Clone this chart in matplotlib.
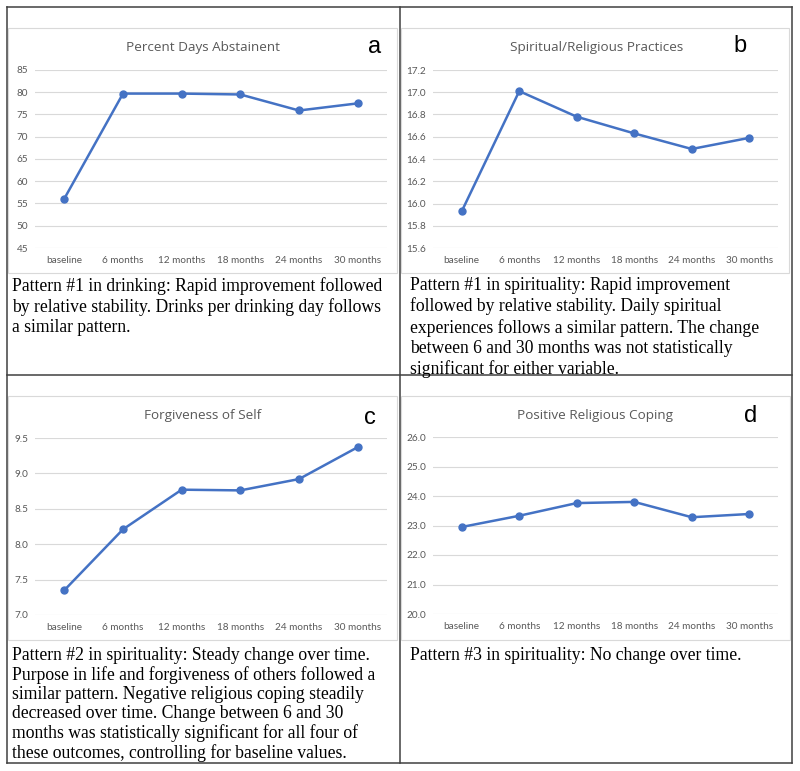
import matplotlib
matplotlib.use("Agg")
import matplotlib.pyplot as plt
from matplotlib.lines import Line2D
from matplotlib.patches import Rectangle
from matplotlib.ticker import FormatStrFormatter

# data
timepoints = ["baseline", "6 months", "12 months", "18 months", "24 months", "30 months"]

abstinent = [56.1, 79.7, 79.7, 79.5, 75.9, 77.5]
practices = [15.93, 17.01, 16.78, 16.63, 16.49, 16.59]
forgiveness_self = [7.35, 8.21, 8.77, 8.76, 8.92, 9.37]
positive_coping = [22.95, 23.33, 23.76, 23.80, 23.28, 23.39]

titles = ["Percent Days Abstainent", "Spiritual/Religious Practices",
          "Forgiveness of Self", "Positive Religious Coping"]
letters = ["a", "b", "c", "d"]

captions = [
    "Pattern #1 in drinking: Rapid improvement followed\n"
    "by relative stability. Drinks per drinking day follows\n"
    "a similar pattern.",
    "Pattern #1 in spirituality: Rapid improvement\n"
    "followed by relative stability. Daily spiritual\n"
    "experiences follows a similar pattern. The change\n"
    "between 6 and 30 months was not statistically\n"
    "significant for either variable.",
    "Pattern #2 in spirituality: Steady change over time.\n"
    "Purpose in life and forgiveness of others followed a\n"
    "similar pattern. Negative religious coping steadily\n"
    "decreased over time. Change between 6 and 30\n"
    "months was statistically significant for all four of\n"
    "these outcomes, controlling for baseline values.",
    "Pattern #3 in spirituality: No change over time.",
]

W, H = 800, 771
fig = plt.figure(figsize=(W / 100, H / 100), dpi=100)


def fx(x):
    return x / W


def fy(y):
    return 1 - y / H


def add_chart(box, values, yticks, fmt, title, title_pos, letter, letter_pos):
    left, top, right, bottom = box
    ax = fig.add_axes([fx(left), fy(bottom), fx(right - left), (bottom - top) / H])
    ax.plot(range(len(timepoints)), values, color="#4472C4", lw=1.8,
            marker="o", ms=5, zorder=3)
    ax.set_xlim(-0.5, len(timepoints) - 0.5)
    ax.set_ylim(yticks[0], yticks[-1])
    ax.set_yticks(yticks)
    ax.yaxis.set_major_formatter(FormatStrFormatter(fmt))
    ax.set_xticks(range(len(timepoints)))
    ax.set_xticklabels(timepoints)
    for s in ax.spines.values():
        s.set_visible(False)
    ax.grid(axis="y", color="#d9d9d9", lw=0.8)
    ax.set_axisbelow(True)
    ax.tick_params(length=0, labelsize=7.2, labelcolor="#595959", pad=6,
                   labelfontfamily="Lato")
    ax.tick_params(axis="y", pad=5)
    fig.text(fx(title_pos[0]), fy(title_pos[1]), title, ha="center", va="center",
             fontsize=9.7, color="#595959", family="Open Sans")
    fig.text(fx(letter_pos[0]), fy(letter_pos[1]), letter, ha="center", va="center",
             fontsize=17, color="black", family="Liberation Sans")
    return ax


add_chart((35, 70, 387, 248), abstinent, [45, 50, 55, 60, 65, 70, 75, 80, 85], "%d",
          titles[0], (203, 47), letters[0], (375, 47))
add_chart((433, 70, 778, 248), practices,
          [15.6, 15.8, 16.0, 16.2, 16.4, 16.6, 16.8, 17.0, 17.2], "%.1f",
          titles[1], (597, 47), letters[1], (740, 46))
add_chart((35, 438, 387, 615), forgiveness_self, [7.0, 7.5, 8.0, 8.5, 9.0, 9.5], "%.1f",
          titles[2], (203, 415), letters[2], (370, 418))
add_chart((433, 437, 778, 614), positive_coping, [20, 21, 22, 23, 24, 25, 26], "%.1f",
          titles[3], (595, 415), letters[3], (751, 416))

# light chart frames
for (x0, y0, x1, y1) in [(8, 28, 397, 273), (401, 28, 789, 273),
                         (8, 396, 397, 640), (401, 396, 790, 640)]:
    fig.patches.append(Rectangle((fx(x0), fy(y1)), fx(x1 - x0), (y1 - y0) / H,
                                 transform=fig.transFigure, fill=False,
                                 ec="#d9d9d9", lw=0.8))

# table borders
tc = "#404040"
for xs, ys in [((7, 792), (7, 7)), ((7, 792), (375, 375)), ((7, 792), (763, 763)),
               ((7, 7), (7, 763)), ((400, 400), (7, 763)), ((792, 792), (7, 763))]:
    fig.add_artist(Line2D([fx(x) for x in xs], [fy(y) for y in ys],
                          transform=fig.transFigure, color=tc, lw=1.1))

# captions
for text, (x, y), ls in zip(captions, [(12, 277), (410, 277), (12, 647), (410, 647)],
                            [1.245, 1.245, 1.16, 1.16]):
    fig.text(fx(x), fy(y), text, ha="left", va="top", fontsize=12.7,
             family="Liberation Serif", linespacing=ls)

fig.savefig("out.png", dpi=100)
